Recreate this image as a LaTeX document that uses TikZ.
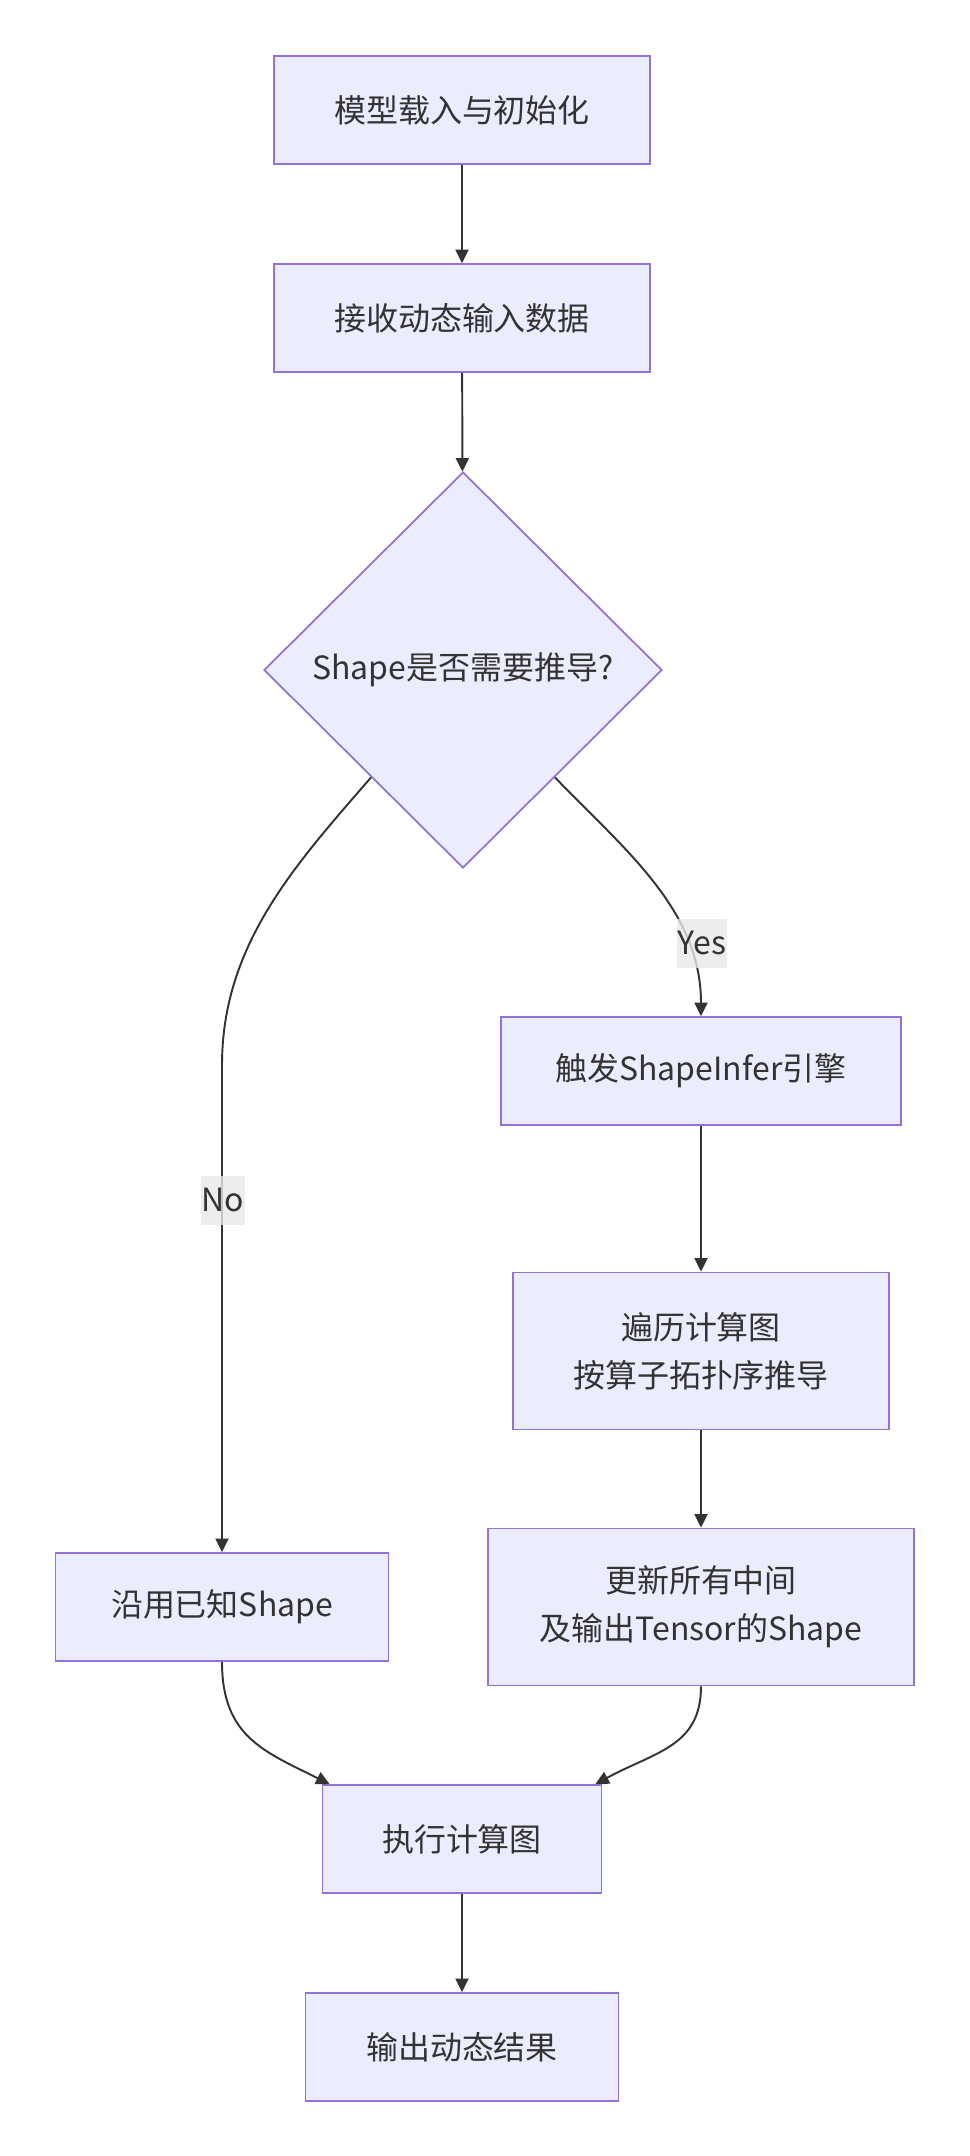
\documentclass[tikz,border=0pt]{standalone}
\usepackage{fontspec}
\setmainfont{Noto Sans CJK SC}
\usepackage{xcolor}
\usepackage{tikz}
\usetikzlibrary{positioning,shapes.geometric,arrows.meta,calc}

\definecolor{nodefill}{HTML}{ECECFF}
\definecolor{nodeline}{HTML}{9370DB}
\definecolor{ink}{HTML}{333333}
\definecolor{lblbg}{HTML}{E8E8E8}

\begin{document}
\begin{tikzpicture}[
    font=\fontsize{18.2}{27.3}\selectfont,
    b/.style={draw=nodeline, fill=nodefill, line width=1pt, text=ink, align=center, minimum height=2.16cm, inner sep=0pt},
    tall/.style={b, minimum height=3.14cm},
    dec/.style={b, diamond, aspect=1, minimum width=7.96cm, minimum height=7.92cm},
    fl/.style={-{Triangle[length=0.27cm, width=0.26cm]}, line width=1.1pt, draw=ink},
    lb/.style={fill=lblbg, fill opacity=0.8, text opacity=1, text=ink, inner xsep=0.5pt, inner ysep=0pt, minimum height=0.98cm},
]
    \useasboundingbox (0,0) rectangle (19.4,-43.12);
    \node[b, minimum width=7.52cm] (load) at (9.24,-2.2) {模型载入与初始化};
    \node[b, minimum width=7.52cm] (recv) at (9.24,-6.36) {接收动态输入数据};
    \node[dec] (dec) at (9.26,-13.4) {Shape是否需要推导?};
    \node[b, minimum width=8.0cm] (trig) at (14.02,-21.42) {触发ShapeInfer引擎};
    \node[tall, minimum width=7.52cm] (trav) at (14.02,-27.02) {遍历计算图\\按算子拓扑序推导};
    \node[tall, minimum width=8.52cm] (upd) at (14.02,-32.14) {更新所有中间\\及输出Tensor的Shape};
    \node[b, minimum width=6.66cm] (keep) at (4.44,-32.14) {沿用已知Shape};
    \node[b, minimum width=5.58cm] (exec) at (9.24,-36.78) {执行计算图};
    \node[b, minimum width=6.26cm] (out) at (9.24,-40.94) {输出动态结果};
    \draw[fl] (load) -- (recv);
    \draw[fl] (recv) -- (dec);
    \draw[fl] ($(dec.south east)!0.08!(dec.south)$) .. controls (12.5,-17.0) and (14.02,-18.2) .. (trig.north);
    \draw[fl] ($(dec.south west)!0.08!(dec.south)$) .. controls (5.9,-17.3) and (4.44,-18.9) .. (4.44,-21.3) -- (keep.north);
    \draw[fl] (trig) -- (trav);
    \draw[fl] (trav) -- (upd);
    \draw[fl] (keep.south) .. controls +(0,-1.5) and +(-1.3,0.65) .. ([xshift=0.16cm]exec.north west);
    \draw[fl] (upd.south) .. controls +(0,-1.2) and +(1.2,0.65) .. ([xshift=-0.14cm]exec.north east);
    \draw[fl] (exec) -- (out);
    \node[lb] (yes) at (14.04,-18.86) {Yes};
    \node[lb] (no) at (4.46,-24.0) {No};
\end{tikzpicture}
\end{document}
